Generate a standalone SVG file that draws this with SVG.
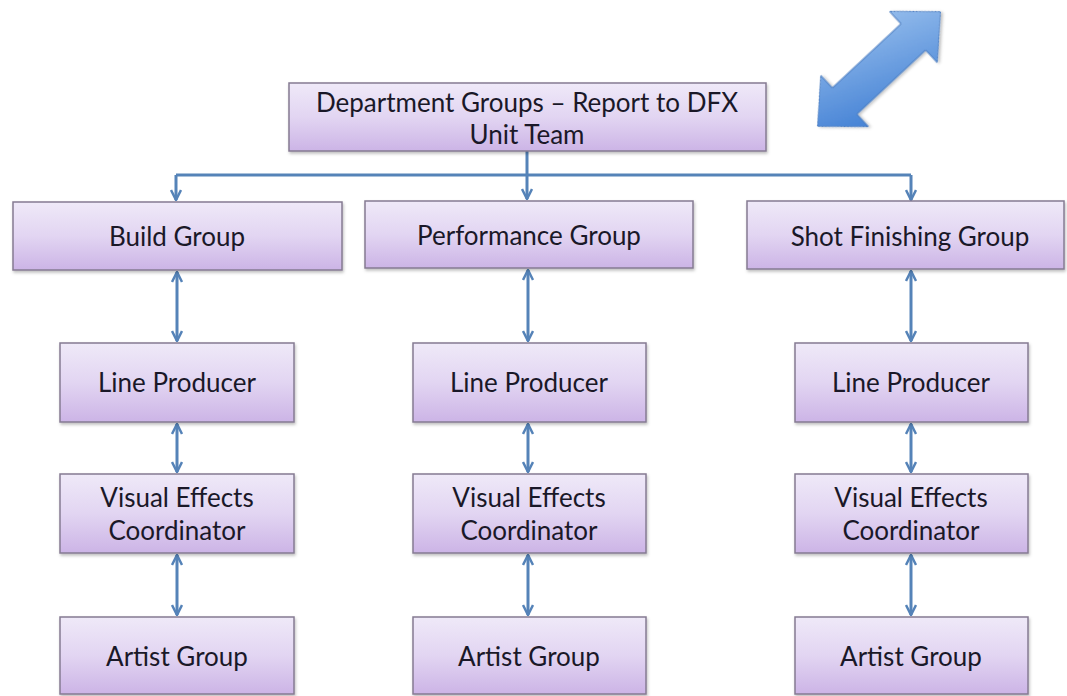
<svg xmlns="http://www.w3.org/2000/svg" width="1067" height="696" viewBox="0 0 1067 696">
  <style>
    .box { fill: url(#boxGrad); stroke: #857b92; stroke-width: 1.5; filter: url(#shadow); }
    .lbl { font-family: Lato, "Open Sans", "Liberation Sans", sans-serif; font-size: 26px; fill: #1a1828; text-anchor: middle; }
    .conn { fill: none; stroke: #5583b8; stroke-width: 3; }
  </style>
  <defs>
    <linearGradient id="boxGrad" x1="0" y1="0" x2="0" y2="1">
      <stop offset="0" stop-color="#efe9f8"/>
      <stop offset="0.5" stop-color="#e2d5f2"/>
      <stop offset="1" stop-color="#ccb4e6"/>
    </linearGradient>
    <linearGradient id="arrowGrad" x1="0" y1="1" x2="1" y2="0">
      <stop offset="0" stop-color="#3a7ad2"/>
      <stop offset="1" stop-color="#9cc2ee"/>
    </linearGradient>
    <filter id="shadow" x="-5%" y="-10%" width="110%" height="130%">
      <feDropShadow dx="1" dy="2" stdDeviation="1.5" flood-color="#000" flood-opacity="0.25"/>
    </filter>
    <marker id="head" viewBox="0 0 12 12" refX="11" refY="6" markerWidth="12" markerHeight="12" markerUnits="userSpaceOnUse" orient="auto-start-reverse">
      <path d="M1,1 L11,6 L1,11" fill="none" stroke="#5583b8" stroke-width="2.5"/>
    </marker>
  </defs>

  <rect width="1067" height="696" fill="#ffffff"/>

  <g id="big-arrow">
    <polygon transform="translate(879,69) rotate(-43)" points="84,0 47,-35 47,-18 -47,-18 -47,-35 -84,0 -47,35 -47,18 47,18 47,35" fill="url(#arrowGrad)" stroke="#4a7cc0" stroke-width="1" filter="url(#shadow)"/>
  </g>

  <g id="connectors">
    <polyline class="conn" points="527,151 527,175"/>
    <polyline class="conn" points="176,175 911,175"/>
    <line class="conn" x1="176" y1="175" x2="176" y2="200" marker-end="url(#head)"/>
    <line class="conn" x1="527" y1="175" x2="527" y2="199" marker-end="url(#head)"/>
    <line class="conn" x1="911" y1="175" x2="911" y2="200" marker-end="url(#head)"/>

    <line class="conn" x1="177" y1="272" x2="177" y2="341" marker-start="url(#head)" marker-end="url(#head)"/>
    <line class="conn" x1="177" y1="424" x2="177" y2="472" marker-start="url(#head)" marker-end="url(#head)"/>
    <line class="conn" x1="177" y1="555" x2="177" y2="615" marker-start="url(#head)" marker-end="url(#head)"/>

    <line class="conn" x1="528" y1="270" x2="528" y2="341" marker-start="url(#head)" marker-end="url(#head)"/>
    <line class="conn" x1="528" y1="424" x2="528" y2="472" marker-start="url(#head)" marker-end="url(#head)"/>
    <line class="conn" x1="528" y1="555" x2="528" y2="615" marker-start="url(#head)" marker-end="url(#head)"/>

    <line class="conn" x1="911" y1="271" x2="911" y2="341" marker-start="url(#head)" marker-end="url(#head)"/>
    <line class="conn" x1="911" y1="424" x2="911" y2="472" marker-start="url(#head)" marker-end="url(#head)"/>
    <line class="conn" x1="911" y1="555" x2="911" y2="615" marker-start="url(#head)" marker-end="url(#head)"/>
  </g>

  <g id="top">
    <rect class="box" x="289" y="83" width="477" height="68"/>
    <text class="lbl" x="527" y="112">Department Groups – Report to DFX</text>
    <text class="lbl" x="527" y="144">Unit Team</text>
  </g>

  <g id="build-group">
    <rect class="box" x="13" y="202" width="329" height="68"/>
    <text class="lbl" x="177" y="246">Build Group</text>
  </g>
  <g id="performance-group">
    <rect class="box" x="365" y="201" width="328" height="67"/>
    <text class="lbl" x="529" y="245">Performance Group</text>
  </g>
  <g id="shot-finishing-group">
    <rect class="box" x="747" y="201" width="317" height="68"/>
    <text class="lbl" x="910" y="246">Shot Finishing Group</text>
  </g>

  <g id="line-producer-1">
    <rect class="box" x="60" y="343" width="234" height="79"/>
    <text class="lbl" x="177" y="392">Line Producer</text>
  </g>
  <g id="line-producer-2">
    <rect class="box" x="413" y="343" width="233" height="79"/>
    <text class="lbl" x="529" y="392">Line Producer</text>
  </g>
  <g id="line-producer-3">
    <rect class="box" x="795" y="343" width="233" height="79"/>
    <text class="lbl" x="911" y="392">Line Producer</text>
  </g>

  <g id="vfx-coordinator-1">
    <rect class="box" x="60" y="474" width="234" height="79"/>
    <text class="lbl" x="177" y="507">Visual Effects</text>
    <text class="lbl" x="177" y="540">Coordinator</text>
  </g>
  <g id="vfx-coordinator-2">
    <rect class="box" x="413" y="474" width="233" height="79"/>
    <text class="lbl" x="529" y="507">Visual Effects</text>
    <text class="lbl" x="529" y="540">Coordinator</text>
  </g>
  <g id="vfx-coordinator-3">
    <rect class="box" x="795" y="474" width="233" height="79"/>
    <text class="lbl" x="911" y="507">Visual Effects</text>
    <text class="lbl" x="911" y="540">Coordinator</text>
  </g>

  <g id="artist-group-1">
    <rect class="box" x="60" y="617" width="234" height="77"/>
    <text class="lbl" x="177" y="666">Artist Group</text>
  </g>
  <g id="artist-group-2">
    <rect class="box" x="413" y="617" width="233" height="77"/>
    <text class="lbl" x="529" y="666">Artist Group</text>
  </g>
  <g id="artist-group-3">
    <rect class="box" x="795" y="617" width="233" height="77"/>
    <text class="lbl" x="911" y="666">Artist Group</text>
  </g>
</svg>
